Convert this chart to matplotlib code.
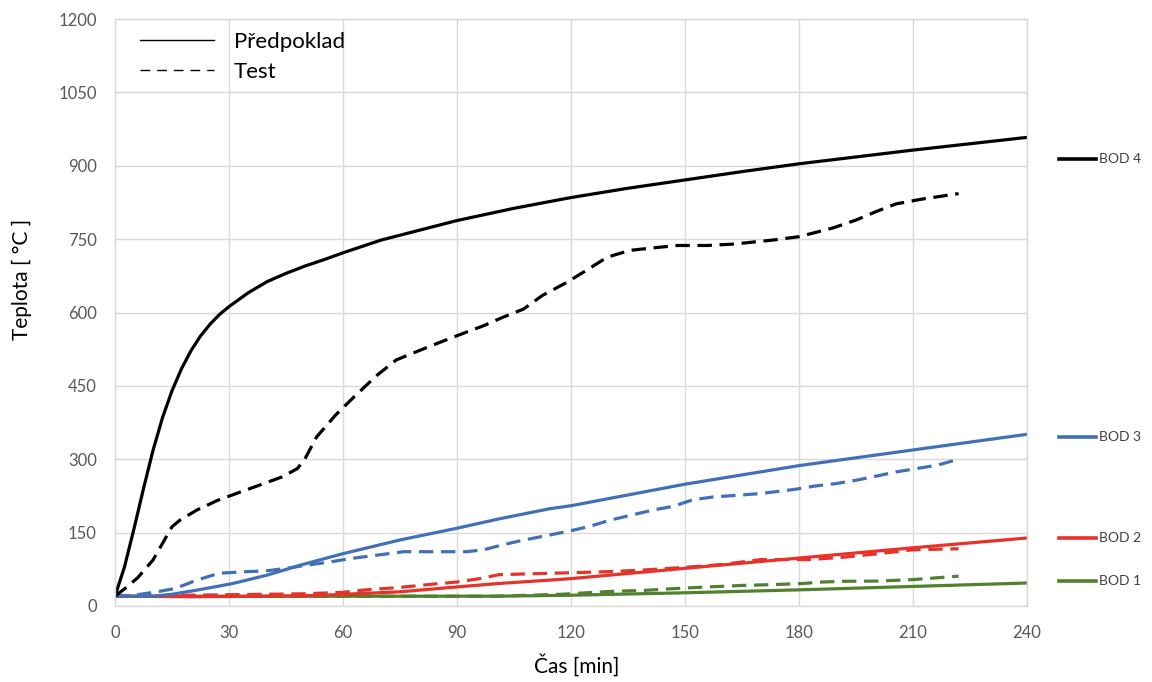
import matplotlib
matplotlib.use('Agg')
import matplotlib.pyplot as plt
from matplotlib.lines import Line2D

plt.rcParams['font.family'] = ['Lato', 'DejaVu Sans']

# BOD 4 - predpoklad / test
t_b4 = [0, 2.5, 5, 7.5, 10, 12.5, 15, 17.5, 20, 22.5, 25, 27.5, 30, 35, 40, 45, 50, 55, 60,
        70, 80, 90, 105, 120, 135, 150, 165, 180, 195, 210, 225, 240]
v_b4 = [20, 80, 158, 240, 318, 385, 440, 485, 522, 552, 576, 596, 612, 640, 663, 680, 695, 708, 722,
        748, 768, 788, 813, 835, 854, 871, 888, 904, 918, 932, 945, 958]
t_b4_test = [0, 3, 6, 10, 12.5, 15, 17, 21.5, 27, 33, 38, 44, 48, 50, 53, 58, 63.5, 69, 74, 80,
             85.5, 91.5, 97, 102, 107.5, 112.5, 119, 124, 129.5, 135.5, 141.5, 148, 156, 163,
             173, 180, 189, 195, 200.5, 205.5, 212.5, 222]
v_b4_test = [20, 38, 58, 94, 128, 162, 175, 196, 216, 233, 247, 264, 281, 301, 345, 390, 432, 472,
             503, 522, 539, 557, 573, 590, 607, 635, 662, 686, 713, 727, 732, 737, 737, 740,
             748, 755, 773, 789, 807, 822, 832, 843]

# BOD 3
t_b3 = [0, 10, 15, 22, 31, 40, 49, 60, 75, 90, 101, 114.5, 120, 135, 150, 165, 180, 195, 210, 225, 240]
v_b3 = [20, 20, 24, 33, 46, 63, 84, 107, 135, 159, 178, 199, 205, 227, 249, 268, 287, 303, 319, 335, 351]
t_b3_test = [0, 5, 11, 16, 21.5, 27.5, 34, 40, 45, 51, 56.5, 62, 69, 76, 84, 92.5, 97, 101.5, 107,
             113, 120, 125, 130.5, 136, 141.5, 147, 152, 157.5, 165, 170, 178.5, 184, 189.5, 195,
             200, 205.5, 211, 216.5, 221]
v_b3_test = [20, 22, 29, 36, 53, 67, 70, 72, 77, 84, 90, 97, 104, 111, 111, 111, 115, 124, 134,
             143, 154, 163, 176, 186, 196, 204, 217, 223, 227, 230, 238, 245, 250, 257,
             265, 274, 281, 288, 298]

# BOD 2
t_b2 = [0, 20, 40, 50, 57.5, 75, 90, 101, 114.5, 120, 150, 180, 210, 240]
v_b2 = [20, 19, 20, 21, 23, 29, 39, 46, 53, 56, 77, 98, 119, 139]
t_b2_test = [0, 10, 20, 30, 40, 50, 60, 66, 75, 84, 90, 96, 101, 110, 120, 129, 138, 150, 160,
             170, 183, 192, 201, 210, 222]
v_b2_test = [20, 21, 22, 23, 24, 25, 28, 33, 38, 45, 49, 56, 64, 66, 68, 70, 73, 79, 85,
             95, 95, 100, 107, 115, 117]

# BOD 1
t_b1 = [0, 60, 100, 120, 150, 180, 210, 240]
v_b1 = [20, 20, 20, 22, 27, 33, 40, 47]
t_b1_test = [0, 60, 100, 117.5, 124, 131, 139.5, 147, 156, 165, 174, 181, 186, 192, 201, 210, 222]
v_b1_test = [20, 20, 20, 24, 27, 30, 32, 35.5, 39, 42, 44, 46, 49, 50.5, 51, 54, 61]

x_ticks = list(range(0, 241, 30))
y_ticks = list(range(0, 1201, 150))
bod_names = ['BOD 1', 'BOD 2', 'BOD 3', 'BOD 4']
bod_colors = ['#51812F', '#E63228', '#4170B8', '#000000']

series = [(t_b1, v_b1, t_b1_test, v_b1_test),
          (t_b2, v_b2, t_b2_test, v_b2_test),
          (t_b3, v_b3, t_b3_test, v_b3_test),
          (t_b4, v_b4, t_b4_test, v_b4_test)]

fig = plt.figure(figsize=(11.52, 6.82), dpi=100)
ax = fig.add_axes([115 / 1152, 76 / 682, 912 / 1152, 587 / 682])

for (t, v, tt, vt), col in zip(series, bod_colors):
    ax.plot(tt, vt, color=col, lw=2.3, dashes=(4.5, 2.4), solid_capstyle='butt')
    ax.plot(t, v, color=col, lw=2.3)

ax.set_xlim(0, 240)
ax.set_ylim(0, 1200)
ax.set_xticks(x_ticks)
ax.set_yticks(y_ticks)
ax.grid(True, color='#D9D9D9', lw=1.0)
ax.set_axisbelow(True)
for sp in ax.spines.values():
    sp.set_color('#D9D9D9')
    sp.set_linewidth(1.0)
ax.tick_params(length=0, labelsize=12, labelcolor='#595959')
ax.tick_params(axis='x', pad=14)
ax.tick_params(axis='y', pad=13)

fig.text(577 / 1152, 1 - 665 / 682, 'Čas [min]', ha='center', va='center', fontsize=15)
fig.text(22 / 1152, 1 - 279 / 682, 'Teplota [ °C ]', ha='center', va='center',
         rotation=90, fontsize=15)

handles = [Line2D([], [], color='black', lw=1.0),
           Line2D([], [], color='black', lw=1.0, dashes=(7, 5))]
ax.legend(handles, ['Předpoklad', 'Test'], loc='upper left', frameon=False, fontsize=16,
          handlelength=3.3, handletextpad=0.9, labelspacing=0.45,
          bbox_to_anchor=(0.006, 1.012))

# labels of the measuring points on the right
bod_y = [0.043, 0.116, 0.288, 0.762]
for name, col, yy in zip(bod_names, bod_colors, bod_y):
    ax.plot([1.035, 1.076], [yy, yy], color=col, lw=2.6, transform=ax.transAxes, clip_on=False)
    ax.text(1.079, yy, name, transform=ax.transAxes, ha='left', va='center',
            fontsize=10, color='#404040')

fig.savefig('out.png', dpi=100)
